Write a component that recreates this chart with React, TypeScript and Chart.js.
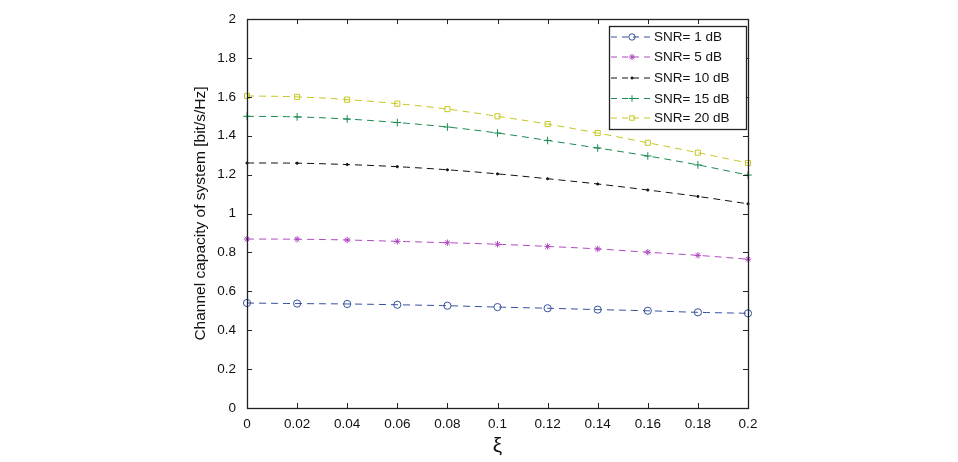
import React, { useEffect, useRef } from "react";
import { Chart, registerables } from "chart.js";
import * as helpers from "chart.js/helpers";

Chart.register(...registerables);

const xi = [0, 0.02, 0.04, 0.06, 0.08, 0.1, 0.12, 0.14, 0.16, 0.18, 0.2];
const snr1 = [0.54, 0.537, 0.535, 0.531, 0.526, 0.519, 0.513, 0.506, 0.5, 0.492, 0.487];
const snr5 = [0.869, 0.868, 0.864, 0.857, 0.85, 0.842, 0.831, 0.818, 0.801, 0.785, 0.765];
const snr10 = [1.26, 1.259, 1.252, 1.241, 1.225, 1.204, 1.179, 1.152, 1.121, 1.088, 1.05];
const snr15 = [1.5, 1.497, 1.486, 1.468, 1.445, 1.414, 1.376, 1.337, 1.296, 1.25, 1.198];
const snr20 = [1.605, 1.6, 1.586, 1.565, 1.537, 1.5, 1.46, 1.414, 1.364, 1.313, 1.26];

const xTicks = [0, 0.02, 0.04, 0.06, 0.08, 0.1, 0.12, 0.14, 0.16, 0.18, 0.2];
const yTicks = [0, 0.2, 0.4, 0.6, 0.8, 1, 1.2, 1.4, 1.6, 1.8, 2];

const seriesLabels = ["SNR= 1 dB", "SNR= 5 dB", "SNR= 10 dB", "SNR= 15 dB", "SNR= 20 dB"];
const seriesValues = [snr1, snr5, snr10, snr15, snr20];
const seriesColors = ["#34509e", "#b048c0", "#111111", "#1a8a50", "#c6c622"];
const seriesMarkers = ["circle", "star", "circle", "cross", "rect"];
const seriesRadius = [3.6, 3.2, 1.1, 3.8, 3.6];

const FONT = "'Liberation Sans', Arial, Helvetica, sans-serif";

const framePlugin = {
  id: "frame",
  afterDraw(chart: any) {
    const { ctx, chartArea } = chart;
    const { left, right, top, bottom } = chartArea;
    const xs = chart.scales.x;
    const ys = chart.scales.y;
    ctx.save();
    ctx.strokeStyle = "#222";
    ctx.lineWidth = 1;
    ctx.setLineDash([]);
    const tl = 5;
    ctx.beginPath();
    xTicks.forEach((v) => {
      const px = Math.round(xs.getPixelForValue(v)) + 0.5;
      ctx.moveTo(px, bottom);
      ctx.lineTo(px, bottom - tl);
      ctx.moveTo(px, top);
      ctx.lineTo(px, top + tl);
    });
    yTicks.forEach((v) => {
      const py = Math.round(ys.getPixelForValue(v)) + 0.5;
      ctx.moveTo(left, py);
      ctx.lineTo(left + tl, py);
      ctx.moveTo(right, py);
      ctx.lineTo(right - tl, py);
    });
    ctx.stroke();
    ctx.lineWidth = 1.3;
    ctx.strokeRect(Math.round(left) + 0.5, Math.round(top) + 0.5, Math.round(right - left), Math.round(bottom - top));

    // legend
    const lx = 609, ly = 26, lw = 137, lh = 103;
    ctx.fillStyle = "#fff";
    ctx.fillRect(lx, ly, lw, lh);
    ctx.lineWidth = 1.3;
    ctx.strokeStyle = "#222";
    ctx.strokeRect(lx + 0.5, ly + 0.5, lw, lh);
    const rowY = [37, 57, 78, 98.5, 118];
    chart.data.datasets.forEach((ds: any, i: number) => {
      const y = rowY[i];
      ctx.save();
      ctx.strokeStyle = ds.borderColor;
      ctx.lineWidth = 1;
      ctx.setLineDash([6, 5]);
      ctx.beginPath();
      ctx.moveTo(611, y);
      ctx.lineTo(651, y);
      ctx.stroke();
      ctx.restore();
      ctx.save();
      ctx.strokeStyle = ds.borderColor;
      ctx.fillStyle = ds.pointBackgroundColor;
      ctx.lineWidth = 1;
      (helpers as any).drawPoint(
        ctx,
        { pointStyle: ds.pointStyle, radius: Math.min(ds.pointRadius, 3.2), borderWidth: 1, rotation: 0 },
        632,
        y
      );
      ctx.restore();
      ctx.fillStyle = "#111";
      ctx.font = `13.5px ${FONT}`;
      ctx.textBaseline = "middle";
      ctx.textAlign = "left";
      ctx.fillText(ds.label, 654, y + 0.5);
    });
    ctx.restore();
  },
};

export default function App() {
  const ref = useRef<HTMLCanvasElement | null>(null);
  useEffect(() => {
    if (!ref.current) return;
    const datasets = seriesValues.map((vals, i) => ({
      label: seriesLabels[i],
      data: xi.map((x, j) => ({ x, y: vals[j] })),
      borderColor: seriesColors[i],
      backgroundColor: seriesColors[i],
      pointBackgroundColor: i === 2 ? seriesColors[i] : "rgba(0,0,0,0)",
      pointBorderColor: seriesColors[i],
      pointStyle: seriesMarkers[i],
      pointRadius: seriesRadius[i],
      pointBorderWidth: 1,
      borderWidth: 1,
      borderDash: [7, 5],
      tension: 0.4,
      fill: false,
      clip: false,
    }));
    const chart = new Chart(ref.current, {
      type: "line",
      data: { datasets },
      plugins: [framePlugin],
      options: {
        responsive: false,
        animation: false,
        layout: { padding: { left: 0, right: 210, top: 19, bottom: 0 } },
        plugins: { legend: { display: false }, tooltip: { enabled: false } },
        scales: {
          x: {
            type: "linear",
            min: 0,
            max: 0.2,
            afterBuildTicks: (s: any) => {
              s.ticks = xTicks.map((v) => ({ value: v }));
            },
            afterFit: (s: any) => {
              s.height = 54;
            },
            ticks: {
              color: "#111",
              font: { family: FONT, size: 13.5 },
              padding: 8,
              maxRotation: 0,
              autoSkip: false,
              callback: (v: any) => String(Number(Number(v).toFixed(2))),
            },
            grid: { display: false, drawTicks: false },
            border: { display: false },
            title: {
              display: true,
              text: "ξ",
              color: "#111",
              font: { family: FONT, size: 21 },
              padding: { top: 0, bottom: 3 },
            },
          },
          y: {
            type: "linear",
            min: 0,
            max: 2,
            afterBuildTicks: (s: any) => {
              s.ticks = yTicks.map((v) => ({ value: v }));
            },
            afterFit: (s: any) => {
              s.width = 247;
            },
            ticks: {
              color: "#111",
              font: { family: FONT, size: 13.5 },
              padding: 11,
              autoSkip: false,
              callback: (v: any) => String(Number(Number(v).toFixed(1))),
            },
            grid: { display: false, drawTicks: false },
            border: { display: false },
            title: {
              display: true,
              text: "Channel capacity of system [bit/s/Hz]",
              color: "#111",
              font: { family: FONT, size: 15.5 },
              padding: { top: 191, bottom: 0 },
            },
          },
        },
      },
    } as any);
    return () => chart.destroy();
  }, []);
  return (
    <div style={{ position: "fixed", left: 0, top: 0, width: 958, height: 462, background: "#fff" }}>
      <canvas ref={ref} width={958} height={462} style={{ width: 958, height: 462 }} />
    </div>
  );
}
